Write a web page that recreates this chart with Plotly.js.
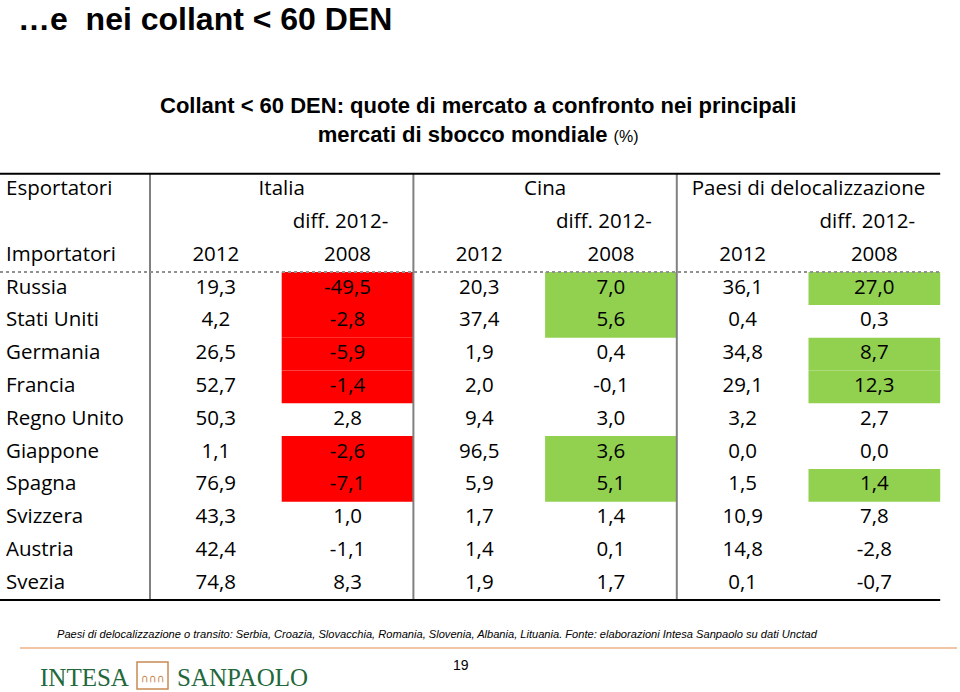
<!DOCTYPE html>
<html>
<head>
<meta charset="utf-8">
<script src="https://cdn.plot.ly/plotly-3.0.1.min.js"></script>
<style>html,body{margin:0;padding:0;background:#fff;}#chart{width:960px;height:692px;}</style>
</head>
<body>
<div id="chart"></div>
<script>
// ---------------- DATA ----------------
const importers = ['Russia','Stati Uniti','Germania','Francia','Regno Unito','Giappone','Spagna','Svizzera','Austria','Svezia'];
const exporters = ['Italia','Cina','Paesi di delocalizzazione'];
const subHeaders = ['2012','diff. 2012-2008'];
const italia2012 = [19.3, 4.2, 26.5, 52.7, 50.3, 1.1, 76.9, 43.3, 42.4, 74.8];
const italiaDiff = [-49.5, -2.8, -5.9, -1.4, 2.8, -2.6, -7.1, 1.0, -1.1, 8.3];
const cina2012 = [20.3, 37.4, 1.9, 2.0, 9.4, 96.5, 5.9, 1.7, 1.4, 1.9];
const cinaDiff = [7.0, 5.6, 0.4, -0.1, 3.0, 3.6, 5.1, 1.4, 0.1, 1.7];
const deloc2012 = [36.1, 0.4, 34.8, 29.1, 3.2, 0.0, 1.5, 10.9, 14.8, 0.1];
const delocDiff = [27.0, 0.3, 8.7, 12.3, 2.7, 0.0, 1.4, 7.8, -2.8, -0.7];
// highlight flags: 0 none, 1 red (loss), 2 green (gain)
const italiaDiffFlag = [1, 1, 1, 1, 0, 1, 1, 0, 0, 0];
const cinaDiffFlag = [2, 2, 0, 0, 0, 2, 2, 0, 0, 0];
const delocDiffFlag = [2, 0, 2, 2, 0, 0, 2, 0, 0, 0];
const pageTitle = '\u2026e\u00a0 nei collant &lt; 60 DEN';
const chartTitle = 'Collant &lt; 60 DEN: quote di mercato a confronto nei principali';
const chartTitle2 = 'mercati di sbocco mondiale';
const footnote = 'Paesi di delocalizzazione o transito: Serbia, Croazia, Slovacchia, Romania, Slovenia, Albania, Lituania. Fonte: elaborazioni Intesa Sanpaolo su dati Unctad';
const pageNumber = '19';

// ---------------- LAYOUT HELPERS ----------------
const W = 960, H = 692;
const colW = 131.7, tableLeft = 150;     // data column width / left edge
const rowH = 32.8, row0 = 288.5;         // row height / centre of first data row
const xmin = (0 - tableLeft) / colW - 0.5, xmax = (W - tableLeft) / colW - 0.5;
const ymin = (0 - row0) / rowH, ymax = (H - row0) / rowH;
const labelX = (6 - tableLeft) / colW - 0.5;
const FONT = '"Open Sans", Lato, sans-serif';
const FS = 20.5;
const fmt = v => v.toFixed(1).replace('.', ',');

const columns = [italia2012, italiaDiff, cina2012, cinaDiff, deloc2012, delocDiff];
const flags = [null, italiaDiffFlag, null, cinaDiffFlag, null, delocDiffFlag];
const fillColors = {1: '#ff0000', 2: '#92d050'};

const traces = [];
const rowIdx = importers.map((_, i) => i);
// row labels
traces.push({type: 'scatter', mode: 'text', x: importers.map(() => labelX), y: rowIdx,
  text: importers, textposition: 'middle right', cliponaxis: false,
  textfont: {family: FONT, size: FS, color: '#000'}, hoverinfo: 'skip'});
// data columns
columns.forEach((vals, c) => {
  traces.push({type: 'scatter', mode: 'text', x: vals.map(() => c), y: rowIdx,
    text: vals.map(fmt), textposition: 'middle center', cliponaxis: false,
    textfont: {family: FONT, size: FS, color: '#000'}, hoverinfo: 'skip'});
});
// header texts
const hx = [], hy = [], ht = [];
hx.push(labelX); hy.push(-3); ht.push('Esportatori');
hx.push(labelX); hy.push(-1); ht.push('Importatori');
traces.push({type: 'scatter', mode: 'text', x: hx, y: hy, text: ht, textposition: 'middle right',
  cliponaxis: false, textfont: {family: FONT, size: FS, color: '#000'}, hoverinfo: 'skip'});
const cx = [], cy = [], ct = [];
exporters.forEach((e, k) => {
  cx.push(2 * k + 0.5); cy.push(-3); ct.push(e);
  cx.push(2 * k); cy.push(-1); ct.push(subHeaders[0]);
  const parts = subHeaders[1].split('-');
  cx.push(2 * k + 1 - 7 / colW); cy.push(-2); ct.push(parts[0] + '-');
  cx.push(2 * k + 1); cy.push(-1); ct.push(parts[1]);
});
traces.push({type: 'scatter', mode: 'text', x: cx, y: cy, text: ct, textposition: 'middle center',
  cliponaxis: false, textfont: {family: FONT, size: FS, color: '#000'}, hoverinfo: 'skip'});

// ---------------- SHAPES ----------------
const shapes = [];
flags.forEach((f, c) => {
  if (!f) return;
  f.forEach((v, r) => {
    if (!v) return;
    shapes.push({type: 'rect', xref: 'x', yref: 'y', x0: c - 0.5, x1: c + 0.5, y0: r - 0.5, y1: r + 0.5,
      fillcolor: fillColors[v], line: {width: 0}, layer: 'below'});
  });
});
const nRows = importers.length;
[-0.5, 1.5, 3.5].forEach(x => shapes.push({type: 'line', xref: 'x', yref: 'y', x0: x, x1: x,
  y0: -3.5, y1: nRows - 0.5, line: {color: '#808080', width: 2}, layer: 'above'}));
shapes.push({type: 'line', xref: 'x', yref: 'y', x0: xmin, x1: 5.5, y0: -3.5, y1: -3.5, line: {color: '#000', width: 2}});
shapes.push({type: 'line', xref: 'x', yref: 'y', x0: xmin, x1: 5.5, y0: nRows - 0.5, y1: nRows - 0.5, line: {color: '#000', width: 2}});
shapes.push({type: 'line', xref: 'x', yref: 'y', x0: xmin, x1: 5.5, y0: -0.5, y1: -0.5, line: {color: '#909090', width: 2, dash: 'dot'}});
// footer orange rule
shapes.push({type: 'line', xref: 'paper', yref: 'paper', x0: 20 / W, x1: 957 / W, y0: 1 - 648 / H, y1: 1 - 648 / H,
  line: {color: '#e3894a', width: 1.2}});
// logo box
shapes.push({type: 'rect', xref: 'paper', yref: 'paper', x0: 137 / W, x1: 168 / W, y0: 1 - 689 / H, y1: 1 - 662 / H,
  line: {color: '#c98a52', width: 1.5}, fillcolor: 'rgba(0,0,0,0)'});

// ---------------- ANNOTATIONS ----------------
const P = (px, py) => ({x: px / W, y: 1 - py / H, xref: 'paper', yref: 'paper'});
const annotations = [
  Object.assign(P(17, 0), {text: '<b>' + pageTitle + '</b>', showarrow: false, xanchor: 'left', yanchor: 'top',
    borderpad: 0, font: {family: 'Liberation Sans, Arial, sans-serif', size: 32, color: '#000'}}),
  Object.assign(P(478, 120), {text: '<b>' + chartTitle + '</b><br><b>' + chartTitle2 + '</b> <span style="font-size:16px">(%)</span>',
    showarrow: false, xanchor: 'center', yanchor: 'middle', align: 'center',
    font: {family: 'Liberation Sans, Arial, sans-serif', size: 22, color: '#000'}}),
  Object.assign(P(55, 634), {text: footnote, showarrow: false, xanchor: 'left', yanchor: 'middle',
    font: {family: 'Liberation Sans, Arial, sans-serif', size: 11.1, color: '#000', style: 'italic'}}),
  Object.assign(P(461, 665), {text: pageNumber, showarrow: false, xanchor: 'center', yanchor: 'middle',
    font: {family: 'Liberation Sans, Arial, sans-serif', size: 14, color: '#000'}}),
  Object.assign(P(38, 677), {text: 'INTESA', showarrow: false, xanchor: 'left', yanchor: 'middle',
    font: {family: 'Liberation Serif, serif', size: 25, color: '#23683b'}}),
  Object.assign(P(152.5, 678), {text: '\u2229\u2229\u2229', showarrow: false, xanchor: 'center', yanchor: 'middle',
    font: {family: 'DejaVu Sans, sans-serif', size: 11, color: '#c98a52'}}),
  Object.assign(P(175, 677), {text: 'SANPAOLO', showarrow: false, xanchor: 'left', yanchor: 'middle',
    font: {family: 'Liberation Serif, serif', size: 25, color: '#23683b'}})
];

const layout = {
  width: W, height: H, margin: {l: 0, r: 0, t: 0, b: 0},
  paper_bgcolor: '#fff', plot_bgcolor: '#fff', showlegend: false,
  xaxis: {range: [xmin, xmax], visible: false, fixedrange: true},
  yaxis: {range: [ymax, ymin], visible: false, fixedrange: true},
  shapes: shapes, annotations: annotations
};
Plotly.newPlot('chart', traces, layout, {displayModeBar: false, staticPlot: true});
</script>
</body>
</html>
